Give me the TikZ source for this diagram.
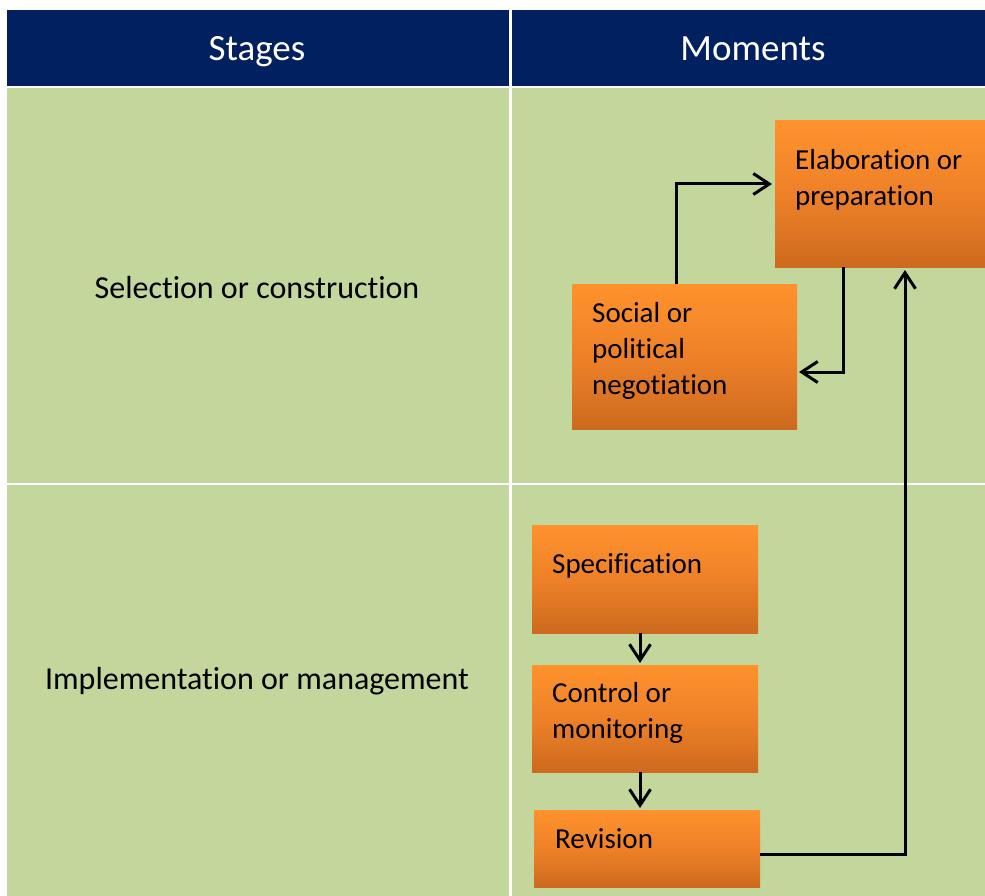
\documentclass[tikz,border=0pt]{standalone}
\usepackage{fontspec}
\setmainfont{Carlito}[Ligatures=NoCommon]
\usetikzlibrary{arrows.meta}
\definecolor{navy}{HTML}{002060}
\definecolor{cellgreen}{HTML}{C3D69B}
\definecolor{orangeTop}{HTML}{FF922C}
\definecolor{orangeMid}{HTML}{EE8128}
\definecolor{orangeBot}{HTML}{CD6A1E}
\tikzset{
  cell/.style={fill=cellgreen, draw=none},
  headcell/.style={fill=navy, draw=none},
  headtext/.style={text=white, font=\fontsize{37}{44}\selectfont, inner sep=0pt},
  stagetext/.style={font=\fontsize{32}{38}\selectfont, inner sep=0pt},
  obox/.style={draw=none, top color=orangeTop, bottom color=orangeBot, middle color=orangeMid, inner sep=0pt},
  btext/.style={font=\fontsize{29}{36}\selectfont, align=left, inner sep=0pt, anchor=base west},
  arr/.style={line width=3pt, -{Straight Barb[length=16pt,width=21pt,line width=3pt]}},
}
\begin{document}
\begin{tikzpicture}[x=1pt,y=-1pt]
\useasboundingbox (0,0) rectangle (985,896);
% table cells
\fill[headcell] (7,10) rectangle (509,86);
\fill[headcell] (512,10) rectangle (985,86);
\fill[cell] (7,88) rectangle (509,482.5);
\fill[cell] (512,88) rectangle (985,482.5);
\fill[cell] (7,485) rectangle (509,896);
\fill[cell] (512,485) rectangle (985,896);
% header texts
\node[headtext, anchor=base] (hstages) at (257,61) {Stages};
\node[headtext, anchor=base] (hmoments) at (753,61) {Moments};
% stage texts
\node[stagetext, anchor=base] (selection) at (257,298) {Selection or construction};
\node[stagetext, anchor=base] (implementation) at (257,689) {Implementation or management};
% boxes
\path[obox] (775,121) rectangle (985,267);
\path[obox] (572,284) rectangle (797,429);
\path[obox] (532,525) rectangle (758,633);
\path[obox] (532,665) rectangle (758,772);
\path[obox] (534,810) rectangle (760,887);
\coordinate (socialN) at (676,284);
\coordinate (elabW) at (772,184);
\coordinate (elabSL) at (843,267);
\coordinate (socialE) at (799,372);
\coordinate (specS) at (640,633);
\coordinate (ctrlN) at (640,663);
\coordinate (ctrlS) at (640,772);
\coordinate (revN) at (640,808);
\coordinate (revE) at (760,854);
\coordinate (elabSR) at (905,270);
% box texts
\node[btext] (elabT) at (795,206) {Elaboration or\\preparation};
\node[btext] (socialT) at (592,394) {Social or\\political\\negotiation};
\node[btext] (specT) at (552,573) {Specification};
\node[btext] (ctrlT) at (552,738) {Control or\\monitoring};
\node[btext] (revT) at (555,848) {Revision};
% arrows
\draw[arr] (socialN) |- (elabW);
\draw[arr] (elabSL) |- (socialE);
\draw[arr] (specS) -- (ctrlN);
\draw[arr] (ctrlS) -- (revN);
\draw[arr] (revE) -| (elabSR);
\end{tikzpicture}
\end{document}
